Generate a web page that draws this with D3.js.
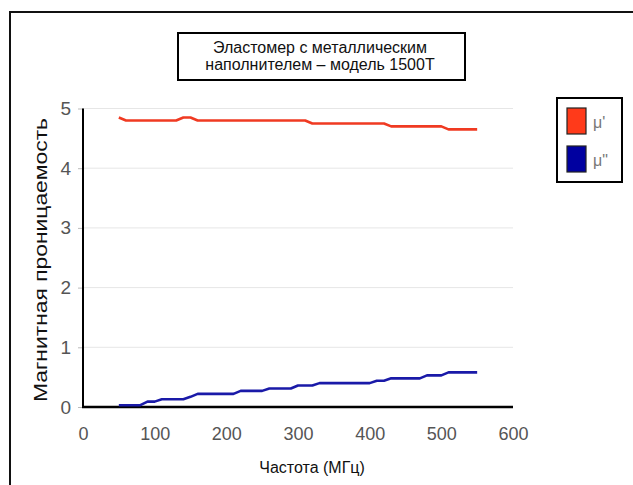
<!DOCTYPE html>
<html><head><meta charset="utf-8">
<script src="https://cdn.jsdelivr.net/npm/d3@7"></script>
<style>body{margin:0;background:#fff;}svg{display:block;font-family:"Liberation Sans",Arial,sans-serif;}</style>
</head><body>
<script>
const freq = [50,60,70,80,90,100,110,120,130,140,150,160,170,180,190,200,210,220,230,240,250,260,270,280,290,300,310,320,330,340,350,360,370,380,390,400,410,420,430,440,450,460,470,480,490,500,510,520,530,540,550];
const muReal = [4.85,4.80,4.80,4.80,4.80,4.80,4.80,4.80,4.80,4.85,4.85,4.80,4.80,4.80,4.80,4.80,4.80,4.80,4.80,4.80,4.80,4.80,4.80,4.80,4.80,4.80,4.80,4.75,4.75,4.75,4.75,4.75,4.75,4.75,4.75,4.75,4.75,4.75,4.70,4.70,4.70,4.70,4.70,4.70,4.70,4.70,4.65,4.65,4.65,4.65,4.65];
const muImag = [0.03,0.03,0.03,0.03,0.09,0.09,0.13,0.13,0.13,0.13,0.17,0.22,0.22,0.22,0.22,0.22,0.22,0.27,0.27,0.27,0.27,0.31,0.31,0.31,0.31,0.36,0.36,0.36,0.40,0.40,0.40,0.40,0.40,0.40,0.40,0.40,0.44,0.44,0.48,0.48,0.48,0.48,0.48,0.53,0.53,0.53,0.58,0.58,0.58,0.58,0.58];
const xTicks = [0,100,200,300,400,500,600];
const yTicks = [0,1,2,3,4,5];
const seriesNames = ["\u03bc'", "\u03bc\""];
const seriesColors = ["#f03a22", "#1a1aa8"];
const swatchColors = ["#ff3a1a", "#0000a0"];
const titleLines = ["Эластомер с металлическим", "наполнителем – модель 1500Т"];
const xTitle = "Частота (МГц)";
const yTitle = "Магнитная проницаемость";

const W = 633, H = 485;
const svg = d3.select("body").append("svg").attr("width", W).attr("height", H);
svg.append("rect").attr("width", W).attr("height", H).attr("fill", "#fff");
// outer frame
svg.append("rect").attr("x", 10).attr("y", 12).attr("width", 700).attr("height", 600)
  .attr("fill", "none").attr("stroke", "#111").attr("stroke-width", 2);

const x = d3.scaleLinear().domain([0, 600]).range([83, 513]);
const y = d3.scaleLinear().domain([0, 5]).range([407, 108.5]);

// gridlines
svg.append("g").selectAll("line").data(yTicks.filter(d => d > 0)).join("line")
  .attr("x1", x(0)).attr("x2", x(600)).attr("y1", d => y(d)).attr("y2", d => y(d))
  .attr("stroke", "#e6e6e6").attr("stroke-width", 1);

// y axis
const yAxis = svg.append("g").attr("transform", `translate(${x(0)},0)`)
  .call(d3.axisLeft(y).tickValues(yTicks).tickFormat(d3.format("d")).tickSize(5).tickPadding(7));
yAxis.select(".domain").remove();
yAxis.selectAll(".tick line").attr("stroke", "#bbb");
yAxis.selectAll(".tick text").attr("fill", "#555").attr("font-size", 19)
  .attr("font-family", "Liberation Sans, Arial, sans-serif");

// x axis
const xAxis = svg.append("g").attr("transform", `translate(0,${y(0)})`)
  .call(d3.axisBottom(x).tickValues(xTicks).tickFormat(d3.format("d")).tickSize(0).tickPadding(20));
xAxis.select(".domain").remove();
xAxis.selectAll(".tick text").attr("fill", "#555").attr("font-size", 18)
  .attr("font-family", "Liberation Sans, Arial, sans-serif");

// axis lines
svg.append("line").attr("x1", x(0)).attr("x2", x(0)).attr("y1", y(5)).attr("y2", y(0))
  .attr("stroke", "#000").attr("stroke-width", 2);
svg.append("line").attr("x1", x(0) - 1).attr("x2", x(600)).attr("y1", y(0)).attr("y2", y(0))
  .attr("stroke", "#000").attr("stroke-width", 2.5);

// lines
const line = d3.line().x((d, i) => x(freq[i])).y(d => y(d));
[muReal, muImag].forEach((vals, k) => {
  svg.append("path").datum(vals).attr("d", line).attr("fill", "none")
    .attr("stroke", seriesColors[k]).attr("stroke-width", 2.6)
    .attr("stroke-linejoin", "round");
});

// title box
svg.append("rect").attr("x", 178).attr("y", 33).attr("width", 287).attr("height", 47)
  .attr("fill", "#fff").attr("stroke", "#000").attr("stroke-width", 2);
titleLines.forEach((t, i) => {
  svg.append("text").attr("x", 320).attr("y", 53 + i * 17).attr("text-anchor", "middle")
    .attr("font-size", 16).attr("fill", "#111").text(t);
});

// axis titles
svg.append("text").attr("x", 312).attr("y", 473).attr("text-anchor", "middle")
  .attr("font-size", 16).attr("fill", "#111").text(xTitle);
svg.append("text").attr("transform", "translate(47,260) rotate(-90)").attr("text-anchor", "middle")
  .attr("font-size", 19).attr("fill", "#111")
  .attr("textLength", 284).attr("lengthAdjust", "spacingAndGlyphs").text(yTitle);

// legend
svg.append("rect").attr("x", 557).attr("y", 98).attr("width", 65).attr("height", 84)
  .attr("fill", "#fff").attr("stroke", "#000").attr("stroke-width", 2);
seriesNames.forEach((n, k) => {
  const cy = 121 + k * 38;
  svg.append("rect").attr("x", 567).attr("y", cy - 13).attr("width", 19).attr("height", 26)
    .attr("fill", swatchColors[k]).attr("stroke", "#222").attr("stroke-width", 1.2);
  svg.append("text").attr("x", 593).attr("y", cy + 7).attr("font-size", 16)
    .attr("fill", "#777").text(n);
});
</script>
</body></html>
